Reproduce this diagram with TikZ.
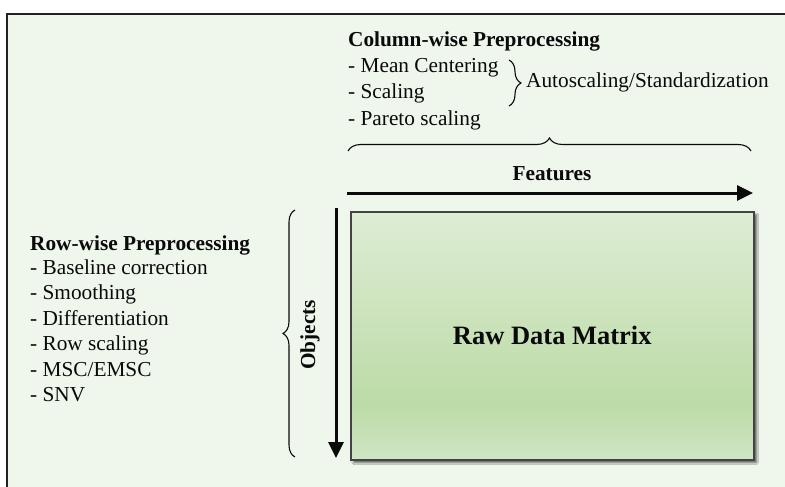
\documentclass[tikz,border=0pt]{standalone}
\usepackage{fontspec}
\setmainfont{Liberation Serif}
\usetikzlibrary{arrows.meta,decorations.pathreplacing,shadows.blur}

\definecolor{panelbg}{RGB}{239,246,236}
\definecolor{framecol}{RGB}{34,34,34}
\definecolor{matTop}{RGB}{222,236,212}
\definecolor{matMid}{RGB}{188,219,167}
\definecolor{matBot}{RGB}{208,230,196}
\definecolor{inkcol}{RGB}{10,10,10}

% vertical fill of the matrix: light top, darkest near the lower part, lighter bottom edge
\pgfdeclareverticalshading{matrixfill}{100bp}{%
  color(0bp)=(matBot); color(25bp)=(matBot); color(36bp)=(matMid);
  color(75bp)=(matTop); color(100bp)=(matTop)}

\tikzset{
  txt/.style={anchor=base west, inner sep=0pt, text=inkcol, font=\fontsize{21.3}{25}\selectfont},
  boldtxt/.style={txt, font=\fontsize{21.3}{25}\selectfont\bfseries},
  axisarrow/.style={line width=3pt, draw=inkcol, -{Triangle[length=16pt,width=15pt]}},
  bracestyle/.style={draw=inkcol, line width=1.1pt, decorate},
}

\begin{document}
\begin{tikzpicture}[x=1pt, y=-1pt]
\useasboundingbox (0,0) rectangle (785,487);
\fill[white] (0,0) rectangle (785,487);

% panel with its top and left frame lines
\fill[panelbg] (7,14) rectangle (790,492);
\draw[framecol, line width=2.3pt] (7,492) -- (7,14) -- (790,14);

% column-wise block
\node[boldtxt] (colhead) at (348,47) {Column-wise Preprocessing};
\node[txt] (mean) at (348,73) {- Mean Centering};
\node[txt] (scal) at (348,99) {- Scaling};
\node[txt] (pareto) at (348,125) {- Pareto scaling};
\coordinate (sbTop) at (509,60);
\coordinate (sbBot) at (509,106);
\draw[bracestyle, decoration={brace, amplitude=12pt}] (sbTop) -- (sbBot);
\node[txt] (auto) at (526,88) {Autoscaling/Standardization};

% brace over the feature axis
\coordinate (fbL) at (348,151);
\coordinate (fbR) at (751,151);
\draw[bracestyle, decoration={brace, amplitude=13pt}] (fbL) -- (fbR);

% feature axis
\node[boldtxt, anchor=base] (feat) at (552,180) {Features};
\coordinate (faStart) at (347,193);
\coordinate (faEnd) at (753,193);
\draw[axisarrow] (faStart) -- (faEnd);

% raw data matrix
\node[draw=framecol!85, line width=1.5pt, shading=matrixfill,
      blur shadow={shadow xshift=3pt, shadow yshift=-3pt, shadow blur steps=6, shadow opacity=60},
      minimum width=403pt, minimum height=248pt, anchor=north west, inner sep=0pt]
  (mat) at (350,211) {};
\node[inner sep=0pt, text=inkcol, font=\fontsize{26.5}{30}\selectfont\bfseries] (matlabel) at (mat.center) {Raw Data Matrix};

% object axis
\coordinate (oaStart) at (336,208);
\coordinate (oaEnd) at (336,458);
\draw[axisarrow] (oaStart) -- (oaEnd);
\node[boldtxt, anchor=center, rotate=90] (obj) at (310,335) {Objects};

% brace beside the object axis
\coordinate (obBot) at (295,457);
\coordinate (obTop) at (295,210);
\draw[bracestyle, decoration={brace, amplitude=12pt}] (obBot) -- (obTop);

% row-wise block
\node[boldtxt] (rowhead) at (30,250) {Row-wise Preprocessing};
\node[txt] (r1) at (30,274) {- Baseline correction};
\node[txt] (r2) at (30,299) {- Smoothing};
\node[txt] (r3) at (30,325) {- Differentiation};
\node[txt] (r4) at (30,350) {- Row scaling};
\node[txt] (r5) at (30,376) {- MSC/EMSC};
\node[txt] (r6) at (30,401) {- SNV};
\end{tikzpicture}
\end{document}
